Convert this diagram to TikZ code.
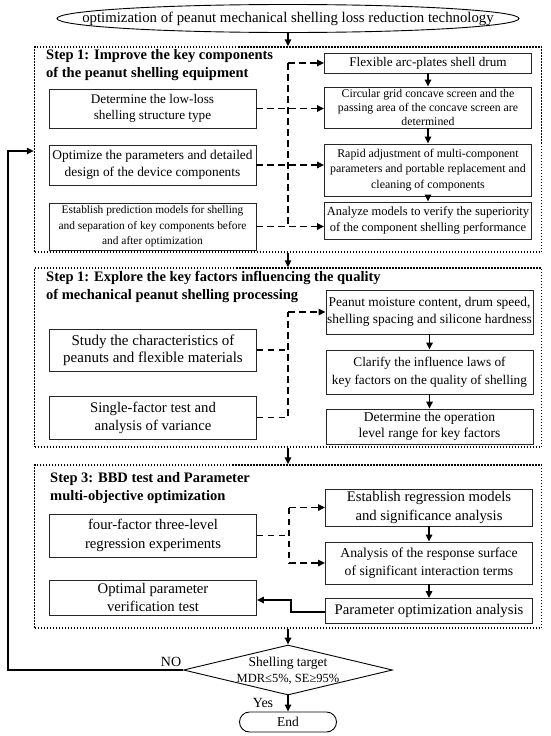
\documentclass[tikz,border=0pt]{standalone}
\usepackage{fontspec}
\setmainfont{Liberation Serif}
\usetikzlibrary{arrows.meta,shapes.geometric,shapes.misc}
\newcommand{\fsz}[2]{\fontsize{#1}{#2}\selectfont}
\tikzset{
  box/.style={draw=black!85, line width=0.9pt, align=center, inner sep=0.3pt, minimum width=207pt},
  stepframe/.style={draw, line width=1.5pt, dash pattern=on 1.5pt off 1.5pt},
  steptitle/.style={font=\bfseries\fsz{14.5}{18}, align=left, inner sep=0pt, anchor=north west},
  dashconn/.style={line width=1.5pt, dash pattern=on 6.5pt off 4.5pt, -{Triangle[length=7pt,width=6.5pt]}},
  dashline/.style={line width=1.5pt, dash pattern=on 6.5pt off 4.5pt},
  solidconn/.style={line width=1.5pt, -{Triangle[length=7pt,width=6.5pt]}},
  lbl/.style={font=\fsz{14}{16}, inner sep=0pt}
}
\begin{document}
\begin{tikzpicture}[x=1pt,y=-1pt]
\useasboundingbox (0,0) rectangle (550,736);

% top
\node[ellipse, draw, line width=0.9pt, minimum width=462pt, minimum height=28pt, inner sep=0pt, font=\fsz{14.8}{16}] (top) at (288,18.5) {\makebox[0pt][c]{optimization of peanut mechanical shelling loss reduction technology}};

% frames
\node[stepframe, minimum width=507pt, minimum height=205pt] (s1) at (288,149.5) {};
\node[stepframe, minimum width=507pt, minimum height=179pt] (s2) at (288,357.5) {};
\node[stepframe, minimum width=507pt, minimum height=163pt] (s3) at (288,546.5) {};

% ---------- step 1 ----------
\node[steptitle] (t1) at (46,49) {Step 1: Improve the key components\\of the peanut shelling equipment};
\node[box, minimum height=39pt, font=\fsz{13.2}{16}] (a1) at (152.5,108.5) {Determine the low-loss\\shelling structure type};
\node[box, minimum height=40pt, font=\fsz{13.4}{17.5}] (a2) at (152.5,165) {Optimize the parameters and detailed\\design of the device components};
\node[box, minimum height=47pt, font=\fsz{11.4}{15.5}] (a3) at (152.5,226.5) {Establish prediction models for shelling\\and separation of key components before\\and after optimization};

\node[box, minimum height=20pt, font=\fsz{13.2}{14}] (r1) at (428,63) {Flexible arc-plates shell drum};
\node[box, minimum height=41pt, font=\fsz{11.8}{14}] (r2) at (428,107.5) {Circular grid concave screen and the\\passing area of the concave screen are\\determined};
\node[box, minimum height=52pt, font=\fsz{11.9}{15.5}] (r3) at (428,170) {Rapid adjustment of multi-component\\parameters and portable replacement and\\cleaning of components};
\node[box, minimum height=37pt, font=\fsz{12.5}{16.5}] (r4) at (428,220.5) {Analyze models to verify the superiority\\of the component shelling performance};

\coordinate (v1t) at (288,63);
\coordinate (v1b) at (288,226.5);
\draw[dashline] (v1t) -- (v1b);
\draw[dashconn] (v1t) -- (r1.west);
\draw[dashconn] (a1.east) -- (r2.west |- a1.east);
\draw[dashconn] (a2.east) -- (r3.west |- a2.east);
\draw[dashconn] (a3.east) -- (r4.west |- a3.east);
\draw[solidconn] (r1) -- (r2);
\draw[solidconn] (r2) -- (r3);
\draw[solidconn] (r3) -- (r4);

% ---------- step 2 ----------
\node[steptitle] (t2) at (46,271) {Step 1: Explore the key factors influencing the quality\\of mechanical peanut shelling processing};
\node[box, minimum height=42pt, font=\fsz{15}{17}] (b1) at (153,350) {Study the characteristics of\\peanuts and flexible materials};
\node[box, minimum height=43pt, font=\fsz{14.7}{18}] (b2) at (153,417.5) {Single-factor test and\\analysis of variance};
\node[box, minimum height=44pt, font=\fsz{13.4}{17.5}] (q1) at (429.5,312) {Peanut moisture content, drum speed,\\shelling spacing and silicone hardness};
\node[box, minimum height=44pt, font=\fsz{13.3}{18}] (q2) at (429.5,372) {Clarify the influence laws of\\key factors on the quality of shelling};
\node[box, minimum height=35pt, font=\fsz{13.5}{16.5}] (q3) at (429.5,426.5) {Determine the operation\\level range for key factors};

\coordinate (v2t) at (288,312);
\draw[dashline] (b1.east) -- (b1.east -| v2t);
\draw[dashline] (b2.east) -- (b2.east -| v2t) -- (v2t);
\draw[dashconn] (v2t) -- (q1.west);
\draw[solidconn] (q1) -- (q2);
\draw[solidconn] (q2) -- (q3);

% ---------- step 3 ----------
\node[steptitle] (t3) at (50,472) {Step 3: BBD test and Parameter\\multi-objective optimization};
\node[box, minimum height=43pt, font=\fsz{14.7}{18.5}] (c1) at (153,535.5) {four-factor three-level\\regression experiments};
\node[box, minimum height=35pt, font=\fsz{14.7}{18.5}] (c2) at (153,597.5) {Optimal parameter\\verification test};
\node[box, minimum height=37pt, font=\fsz{14.7}{18.5}] (p1) at (429,507.5) {Establish regression models\\and significance analysis};
\node[box, minimum height=42pt, font=\fsz{13.7}{18.5}] (p2) at (429,563) {Analysis of the response surface\\of significant interaction terms};
\node[box, minimum height=25pt, font=\fsz{14.7}{16}] (p3) at (429,611) {Parameter optimization analysis};

\coordinate (v3t) at (289,507.5);
\coordinate (v3b) at (289,563);
\draw[dashline] (c1.east) -- (c1.east -| v3t);
\draw[dashline] (v3t) -- (v3b);
\draw[dashconn] (v3t) -- (p1.west);
\draw[dashconn] (v3b) -- (p2.west);
\draw[solidconn] (p1) -- (p2);
\draw[solidconn] (p2) -- (p3);
\coordinate (k1) at (291,612);
\coordinate (k2) at (291,600);
\draw[solidconn] (p3.west |- k1) -- (k1) -- (k2) -- (c2.east |- k2);

% ---------- between frames ----------
\draw[solidconn] (top.south) -- (top.south |- s1.north);
\draw[solidconn] (s1.south) -- (s2.north);
\draw[solidconn] (s2.south) -- (s3.north);

% ---------- decision ----------
\node[diamond, draw, line width=0.9pt, minimum width=209pt, minimum height=50pt, inner sep=0pt] (dec) at (288,670) {};
\node[font=\fsz{13.5}{16}, align=center, inner sep=0pt] (dectext) at (288,671) {Shelling target\\{\fsz{12.5}{16}MDR≤5\%, SE≥95\%}};
\node[rounded rectangle, draw, line width=0.9pt, minimum width=97pt, minimum height=20pt, inner sep=0pt, font=\fsz{13.5}{15}] (end) at (288,722) {End};

\draw[solidconn] (s3.south) -- (dec.north);
\draw[solidconn] (dec.south) -- (end.north);
\node[lbl] (yes) at (263,703) {Yes};
\node[lbl] (no) at (171,662) {NO};

\coordinate (fb1) at (8,670);
\coordinate (fb2) at (8,151);
\draw[solidconn] (dec.west) -- (fb1) -- (fb2) -- (s1.west |- fb2);
\end{tikzpicture}
\end{document}
